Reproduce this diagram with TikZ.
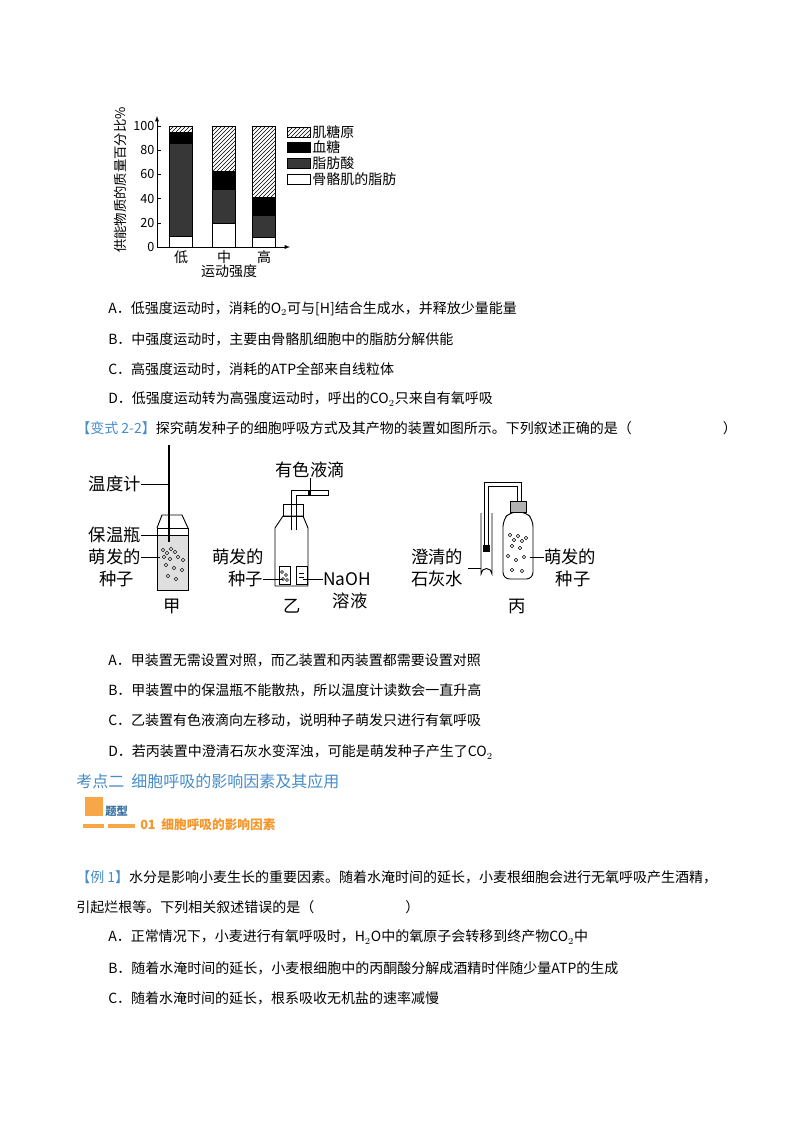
\documentclass[tikz,border=0pt]{standalone}
\usepackage{fontspec}
\setmainfont{Noto Sans CJK SC}
\usetikzlibrary{patterns}
\definecolor{hdblue}{RGB}{70,140,200}
\definecolor{hdorange}{RGB}{245,150,40}
\definecolor{fatgray}{RGB}{55,55,55}
\tikzset{txt/.style={anchor=west,inner sep=0pt,font=\fontsize{10.5}{12}\selectfont},
  lbl/.style={inner sep=0pt,font=\fontsize{13}{14}\selectfont},
  tick/.style={anchor=east,inner sep=1pt,font=\fontsize{9.5}{10}\selectfont},
  legbox/.style={draw,line width=0.5pt},
  glyc/.style={pattern=north east lines},
  blood/.style={fill=black},
  fatty/.style={fill=fatgray},
  skfat/.style={fill=white},
  app/.style={line width=0.7pt},
  seed/.style={draw,fill=white,line width=0.4pt}}
\begin{document}
\begin{tikzpicture}[x=0.75pt,y=-0.75pt]
\useasboundingbox (0,0) rectangle (800,1132);
% chart
\newcommand{\stackbar}[5]{% x, white, fatty, blood, glycogen top
  \draw[skfat] (#1,247) rectangle (#1+23,{247-1.21*#2});
  \draw[fatty] (#1,{247-1.21*#2}) rectangle (#1+23,{247-1.21*#3});
  \draw[blood] (#1,{247-1.21*#3}) rectangle (#1+23,{247-1.21*#4});
  \draw[glyc] (#1,{247-1.21*#4}) rectangle (#1+23,{247-1.21*#5});}
\stackbar{169}{9}{86}{95}{100}
\stackbar{212}{20}{48}{63}{100}
\stackbar{252}{8}{26}{41}{100}
\draw[-latex] (157,247) -- (157,116);
\draw[-latex] (157,247) -- (290,247);
\foreach \v in {0,20,...,100} {
  \draw (157,{247-1.21*\v}) -- (161,{247-1.21*\v});
  \node[tick] (t\v) at (156,{247-1.21*\v}) {\v};}
\node[rotate=90,inner sep=0pt,font=\fontsize{10}{11}\selectfont] (ylab) at (120,180) {供能物质的质量百分比\%};
\node[inner sep=0pt,font=\fontsize{10.5}{11}\selectfont] (low) at (181,257) {低};
\node[inner sep=0pt,font=\fontsize{10.5}{11}\selectfont] (mid) at (224,257) {中};
\node[inner sep=0pt,font=\fontsize{10.5}{11}\selectfont] (high) at (264,257) {高};
\node[inner sep=0pt,font=\fontsize{10.5}{11}\selectfont] (xlab) at (229,271) {运动强度};
\foreach \y/\f/\t [count=\i] in {132/glyc/肌糖原,147/blood/血糖,163/fatty/脂肪酸,179/skfat/骨骼肌的脂肪} {
  \draw[legbox,\f] (287,\y-5) rectangle (310,\y+5);
  \node[anchor=west,inner sep=0pt,font=\fontsize{10.5}{11}\selectfont] (leg\i) at (312,\y) {\t};}
% text
\node[txt] (qa) at (108,309) {A．低强度运动时，消耗的O$_2$可与[H]结合生成水，并释放少量能量};
\node[txt] (qb) at (108,339) {B．中强度运动时，主要由骨骼肌细胞中的脂肪分解供能};
\node[txt] (qc) at (108,369) {C．高强度运动时，消耗的ATP全部来自线粒体};
\node[txt] (qd) at (108,399) {D．低强度运动转为高强度运动时，呼出的CO$_2$只来自有氧呼吸};
\node[txt] (bs) at (76,428) {\textcolor{hdblue}{【变式 2-2】}探究萌发种子的细胞呼吸方式及其产物的装置如图所示。下列叙述正确的是（\hspace{6.5em}）};
% apparatus jia
\fill[gray!25] (157,535) rectangle (188,590);
\draw[app] (157,528) rectangle (188,590);
\draw[app] (157,528) -- (162,515) -- (182,515) -- (188,528);
\draw[app] (157,535) -- (188,535);
\draw[line width=1.4pt] (169,445) -- (169,542);
\foreach \p in {(163,550),(167,553),(171,549),(175,552),(164,557),(170,559),(178,557),(166,565),(174,568),(182,570),(168,576),(176,579),(183,560)} \draw[seed] \p circle (1.8);
\node[lbl,anchor=east] (thermo) at (141,484) {温度计};
\node[lbl,anchor=east] (flask) at (141,535) {保温瓶};
\node[lbl,anchor=east] (seedj1) at (141,557) {萌发的};
\node[lbl,anchor=east] (seedj2) at (134,579) {种子};
\node[lbl] (jia) at (172,606) {甲};
\draw (thermo.east) -- (169,484);
\draw (flask.east) -- (157,535);
\draw (seedj1.east) -- (160,557);
% apparatus yi
\draw[app] (275,586) -- (275,528) -- (283,516) -- (303,516) -- (308,528) -- (308,586) -- cycle;
\draw[app] (283,504) rectangle (303,516);
\draw[app] (291,530) -- (291,490) -- (328,490) -- (328,495) -- (296,495) -- (296,530);
\fill[black] (308,490) rectangle (311,495);
\draw[app] (279,566) rectangle (290,584);
\draw[app] (296,566) rectangle (307,584);
\foreach \p in {(282,572),(286,575),(283,579),(287,580)} \draw[seed] \p circle (1.4);
\draw (299,573) -- (304,573) (299,577) -- (304,577);
\node[lbl] (npl) at (310,470) {有色液滴};
\node[lbl] (seedy1) at (238,557) {萌发的};
\node[lbl,anchor=east] (seedy2) at (263,579) {种子};
\node[lbl,anchor=west] (naoh) at (323,579) {NaOH};
\node[lbl] (sol) at (350,601) {溶液};
\node[lbl] (yi) at (292,606) {乙};
\draw (npl.south) -- (310,490);
\draw (seedy2.east) -- (283,579);
\draw (naoh.west) -- (303,579);
% apparatus bing
\draw[app] (481,513) -- (481,574) arc (180:360:5.5) -- (492,513);
\fill[black] (483,545) rectangle (490,552);
\draw[app] (484,550) -- (484,482) -- (521,482) -- (521,502);
\draw[app] (488,550) -- (488,486) -- (517,486) -- (517,502);
\draw[app,rounded corners=5pt] (503,579) -- (503,520) -- (510,512) -- (526,512) -- (533,520) -- (533,579) -- cycle;
\draw[app,fill=gray!60] (510,501) rectangle (526,512);
\foreach \p in {(510,535),(514,540),(518,536),(522,541),(512,546),(526,538),(520,548),(508,556),(516,560),(524,557),(512,570),(522,571)} \draw[seed] \p circle (1.8);
\node[lbl] (lime1) at (437,557) {澄清的};
\node[lbl] (lime2) at (437,579) {石灰水};
\node[lbl,anchor=west] (seedb1) at (544,557) {萌发的};
\node[lbl] (seedb2) at (573,579) {种子};
\node[lbl] (bing) at (517,606) {丙};
\draw (468,568) -- (481,568);
\draw (530,557) -- (seedb1.west);
% options
\node[txt] (oa) at (108,660) {A．甲装置无需设置对照，而乙装置和丙装置都需要设置对照};
\node[txt] (ob) at (108,690) {B．甲装置中的保温瓶不能散热，所以温度计读数会一直升高};
\node[txt] (oc) at (108,720) {C．乙装置有色液滴向左移动，说明种子萌发只进行有氧呼吸};
\node[txt] (od) at (108,752) {D．若丙装置中澄清石灰水变浑浊，可能是萌发种子产生了CO$_2$};
% heading
\node[txt,font=\fontsize{12}{13}\selectfont,text=hdblue] (kd) at (76,781) {考点二\ \ 细胞呼吸的影响因素及其应用};
\fill[hdorange!85] (85,797) rectangle (103,816);
\node[txt,font=\bfseries\fontsize{8.5}{9}\selectfont,text=hdblue!80!black] (tx) at (105,811) {题型};
\fill[hdorange!85] (83,824) rectangle (104,828);
\fill[hdorange!85] (108,824) rectangle (135,828);
\node[txt,font=\bfseries\fontsize{9.5}{10}\selectfont,text=hdorange] (t01) at (140,825) {01\ \ 细胞呼吸的影响因素};
% example
\node[txt] (ex1) at (76,877) {\textcolor{hdblue}{【例 1】}水分是影响小麦生长的重要因素。随着水淹时间的延长，小麦根细胞会进行无氧呼吸产生酒精，};
\node[txt] (ex2) at (76,907) {引起烂根等。下列相关叙述错误的是（\hspace{6.5em}）};
\node[txt] (ea) at (108,937) {A．正常情况下，小麦进行有氧呼吸时，H$_2$O中的氧原子会转移到终产物CO$_2$中};
\node[txt] (eb) at (108,968) {B．随着水淹时间的延长，小麦根细胞中的丙酮酸分解成酒精时伴随少量ATP的生成};
\node[txt] (ec) at (108,998) {C．随着水淹时间的延长，根系吸收无机盐的速率减慢};
\end{tikzpicture}
\end{document}
